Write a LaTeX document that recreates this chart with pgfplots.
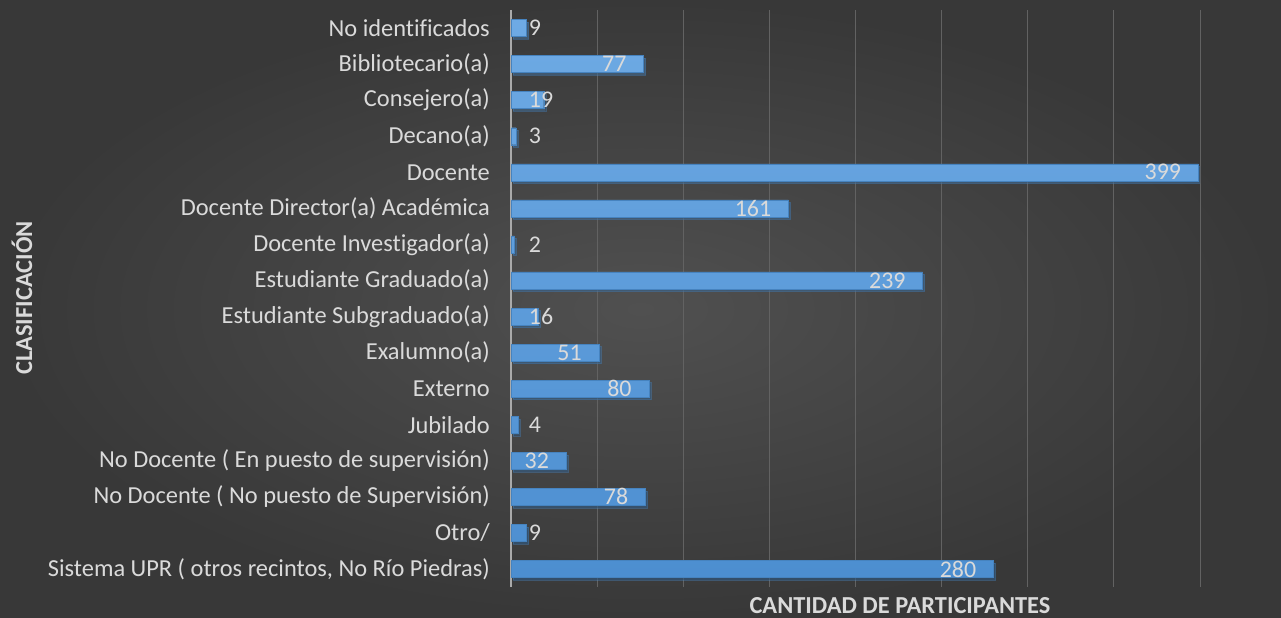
\documentclass[border=0pt]{standalone}
\usepackage{pgfplots}
\pgfplotsset{compat=1.18}
\usepackage{pgfplotstable}
\usepackage{fontspec}
\setmainfont{Carlito}[Ligatures=NoCommon]
\usetikzlibrary{shadows}
\definecolor{bgin}{RGB}{80,80,80}
\definecolor{bgout}{RGB}{56,56,56}
\definecolor{gridc}{RGB}{98,98,98}
\definecolor{axc}{RGB}{170,170,170}
\definecolor{txt}{RGB}{218,218,218}
\definecolor{bartop}{RGB}{110,170,228}
\definecolor{barbot}{RGB}{76,142,208}

\pgfplotstableread{
i v sh
0 9 14.7
1 77 -17
2 19 9.7
3 3 25.0
4 399 -17
5 161 -17
6 2 26.8
7 239 -17
8 16 14.8
9 51 -17
10 80 -17
11 4 23.3
12 32 -17
13 78 -17
14 9 14.7
15 280 -17
}\datatable

\begin{document}
\begin{tikzpicture}[x=1bp,y=1bp]
\shade[inner color=bgin, outer color=bgout] (0,0) rectangle (1281,618);
\useasboundingbox (0,0) rectangle (1281,618);
\begin{axis}[
  at={(511bp,31bp)}, anchor=south west,
  scale only axis, width=689bp, height=577bp,
  xmin=0, xmax=400, ymin=-0.5, ymax=15.5,
  y dir=reverse,
  xbar, bar width=17bp,
  axis y line*=left, axis x line*=bottom,
  x axis line style={draw=none},
  y axis line style={draw=axc, line width=1.2bp},
  xtick={0,50,...,400}, xticklabels={},
  xmajorgrids, grid style={draw=gridc, line width=0.8bp},
  ytick={0,...,15},
  yticklabels={No identificados, Bibliotecario(a), Consejero(a), Decano(a), Docente, Docente Director(a) Académica, Docente Investigador(a), Estudiante Graduado(a), Estudiante Subgraduado(a), Exalumno(a), Externo, Jubilado, No Docente ( En puesto de supervisión), No Docente ( No puesto de Supervisión), Otro/, Sistema UPR ( otros recintos{,} No Río Piedras)},
  major tick length=0pt,
  yticklabel style={font=\fontsize{24.5}{28}\selectfont, text=txt, inner sep=0pt, xshift=-21bp},
  /pgf/number format/assume math mode=true,
]
\addplot[xbar, draw=barbot!92!black, line width=0.4bp, top color=bartop, bottom color=barbot,
  drop shadow={shadow xshift=2bp, shadow yshift=-2.5bp, opacity=0.4, fill=black},
  point meta=x, nodes near coords,
  visualization depends on={\thisrow{sh} \as \sh},
  every node near coord/.append style={font=\fontsize{24}{28}\selectfont, text=txt, inner sep=0pt, anchor=east, xshift=\sh bp},
] table[x=v, y=i] {\datatable};
\end{axis}
\node[font=\bfseries\fontsize{24.5}{28}\selectfont, text=txt] at (900,12) {CANTIDAD DE PARTICIPANTES};
\node[font=\bfseries\fontsize{24.5}{28}\selectfont, text=txt, rotate=90] at (22,320) {CLASIFICACIÓN};
\end{tikzpicture}
\end{document}
